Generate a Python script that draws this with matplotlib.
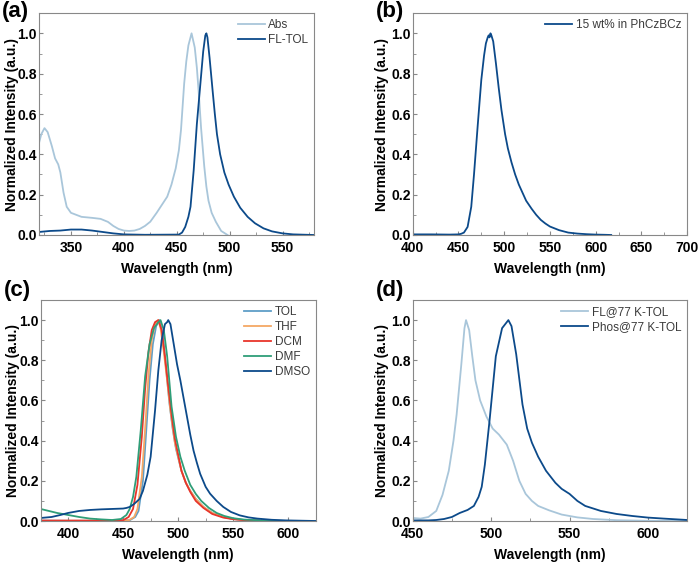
import numpy as np
import matplotlib.pyplot as plt
from matplotlib.ticker import MultipleLocator

plt.rcParams['font.family'] = ['Liberation Sans', 'DejaVu Sans']

# (a) absorption and fluorescence in toluene
abs_x = [320, 322, 325, 328, 332, 335, 338, 340, 343, 346, 350, 355, 360, 370, 378, 385, 390, 395,
         400, 405, 410, 415, 420, 425, 431, 436, 441, 445, 449, 452, 454, 457, 459, 461, 464, 467,
         469, 471, 473, 476, 478, 480, 483, 487, 492, 498]
abs_y = [0.46, 0.50, 0.53, 0.51, 0.44, 0.38, 0.35, 0.31, 0.21, 0.14, 0.11, 0.10, 0.09, 0.085, 0.08,
         0.065, 0.045, 0.03, 0.022, 0.02, 0.022, 0.03, 0.045, 0.066, 0.11, 0.15, 0.19, 0.25, 0.33,
         0.42, 0.52, 0.75, 0.86, 0.94, 1.0, 0.93, 0.83, 0.69, 0.53, 0.34, 0.24, 0.17, 0.11, 0.065,
         0.02, 0.0]
fl_x = [320, 330, 340, 350, 360, 370, 380, 390, 400, 420, 452, 455, 458, 461, 463, 466, 469, 472,
        475, 477, 478, 479, 481, 484, 486, 488, 491, 495, 499, 504, 510, 517, 524, 532, 540, 550,
        560, 580]
fl_y = [0.015, 0.02, 0.022, 0.027, 0.027, 0.022, 0.015, 0.008, 0.003, 0.001, 0.002, 0.012, 0.04,
        0.09, 0.14, 0.32, 0.55, 0.73, 0.91, 0.99, 1.0, 0.98, 0.88, 0.71, 0.60, 0.50, 0.40, 0.31,
        0.25, 0.19, 0.135, 0.09, 0.058, 0.033, 0.018, 0.008, 0.003, 0.0]

# (b) doped film
film_x = [400, 420, 440, 450, 453, 456, 460, 464, 467, 471, 475, 478, 480, 482, 483, 484, 485, 486,
          488, 491, 494, 497, 501, 504, 508, 512, 516, 520, 524, 530, 535, 540, 545, 550, 560, 570,
          580, 590, 600, 610, 617]
film_y = [0.003, 0.003, 0.002, 0.003, 0.006, 0.012, 0.04, 0.14, 0.30, 0.54, 0.77, 0.89, 0.95,
          0.98, 0.99, 0.98, 1.0, 0.99, 0.96, 0.85, 0.73, 0.62, 0.50, 0.43, 0.36, 0.30, 0.25, 0.21,
          0.17, 0.13, 0.10, 0.075, 0.057, 0.042, 0.024, 0.012, 0.007, 0.004, 0.002, 0.001, 0.0]

# (c) solvatochromism
tol_x = [375, 400, 440, 456, 461, 464, 468, 471, 474, 477, 480, 483, 486, 489, 492, 495, 498, 503,
         507, 511, 516, 523, 531, 541, 550, 560, 580, 600, 625]
tol_y = [0.002, 0.001, 0.001, 0.004, 0.02, 0.05, 0.20, 0.45, 0.70, 0.88, 0.97, 1.0, 0.93, 0.76,
         0.59, 0.46, 0.36, 0.25, 0.19, 0.15, 0.11, 0.07, 0.04, 0.02, 0.01, 0.005, 0.001, 0.0, 0.0]
thf_x = [375, 400, 440, 455, 460, 463, 467, 470, 473, 476, 479, 482, 484, 487, 490, 493, 497, 503,
         507, 511, 516, 523, 531, 541, 550, 560, 580]
thf_y = [0.001, 0.001, 0.001, 0.003, 0.02, 0.06, 0.22, 0.46, 0.72, 0.90, 0.98, 1.0, 0.96, 0.84,
         0.70, 0.55, 0.39, 0.25, 0.19, 0.15, 0.11, 0.07, 0.04, 0.02, 0.01, 0.005, 0.0]
dcm_x = [375, 400, 440, 450, 455, 459, 463, 467, 470, 473, 476, 479, 482, 485, 488, 491, 494, 497,
         503, 507, 511, 516, 523, 531, 541, 550, 560, 580]
dcm_y = [0.002, 0.002, 0.002, 0.004, 0.02, 0.06, 0.18, 0.42, 0.66, 0.84, 0.95, 0.99, 1.0, 0.95,
         0.82, 0.67, 0.53, 0.41, 0.25, 0.19, 0.145, 0.10, 0.065, 0.035, 0.017, 0.009, 0.004, 0.0]
dmf_x = [375, 390, 400, 410, 420, 430, 440, 448, 453, 456, 459, 462, 466, 470, 474, 478, 482, 484,
         487, 490, 494, 498, 502, 506, 511, 516, 521, 528, 535, 542, 550, 560, 580, 600]
dmf_y = [0.06, 0.04, 0.03, 0.02, 0.012, 0.008, 0.005, 0.01, 0.03, 0.06, 0.12, 0.22, 0.45, 0.72,
         0.88, 0.96, 0.99, 1.0, 0.95, 0.82, 0.57, 0.42, 0.32, 0.25, 0.18, 0.135, 0.10, 0.065, 0.04,
         0.025, 0.014, 0.007, 0.002, 0.0]
dmso_x = [375, 385, 393, 400, 410, 420, 430, 440, 450, 453, 456, 460, 465, 468, 472, 475, 479, 482,
          485, 488, 490, 491, 493, 496, 499, 502, 505, 508, 511, 514, 517, 520, 525, 529, 535, 541,
          548, 556, 564, 572, 585, 598, 625]
dmso_y = [0.015, 0.02, 0.03, 0.04, 0.05, 0.055, 0.058, 0.06, 0.062, 0.065, 0.07, 0.085, 0.11, 0.15,
          0.23, 0.32, 0.55, 0.75, 0.90, 0.98, 0.99, 1.0, 0.98, 0.88, 0.78, 0.70, 0.61, 0.52, 0.43,
          0.35, 0.29, 0.235, 0.17, 0.136, 0.10, 0.07, 0.045, 0.028, 0.018, 0.012, 0.006, 0.003, 0.0]

# (d) 77 K fluorescence and phosphorescence
fl77_x = [450, 455, 460, 465, 469, 473, 476, 478, 481, 483, 484, 486, 488, 490, 493, 497, 501, 505,
          510, 514, 518, 522, 526, 530, 537, 545, 555, 565, 580, 600, 625]
fl77_y = [0.015, 0.012, 0.02, 0.05, 0.13, 0.25, 0.40, 0.53, 0.78, 0.96, 1.0, 0.95, 0.82, 0.70,
          0.60, 0.52, 0.46, 0.43, 0.38, 0.30, 0.20, 0.135, 0.10, 0.075, 0.053, 0.032, 0.018, 0.01,
          0.004, 0.001, 0.0]
phos_x = [450, 460, 465, 470, 475, 480, 485, 489, 492, 494, 496, 499, 503, 507, 509, 511, 513, 516,
          520, 523, 526, 530, 535, 541, 545, 550, 555, 560, 570, 580, 590, 600, 610, 625]
phos_y = [0.003, 0.003, 0.005, 0.01, 0.02, 0.04, 0.055, 0.075, 0.12, 0.17, 0.28, 0.50, 0.82, 0.96,
          0.98, 1.0, 0.97, 0.83, 0.58, 0.46, 0.39, 0.32, 0.25, 0.19, 0.16, 0.135, 0.10, 0.075, 0.05,
          0.035, 0.025, 0.017, 0.012, 0.005]

light = '#a9c6da'
dark = '#0c4a8a'
spine_c = '#888888'
lw = 1.3

fig = plt.figure(figsize=(7.0, 5.63), dpi=100)
ax_a = fig.add_axes([0.056, 0.5826, 0.393, 0.394])
ax_b = fig.add_axes([0.5896, 0.5826, 0.392, 0.394])
ax_c = fig.add_axes([0.058, 0.0746, 0.393, 0.3925])
ax_d = fig.add_axes([0.5896, 0.0746, 0.392, 0.3925])

ax_a.plot(abs_x, abs_y, color=light, lw=lw, label='Abs')
ax_a.plot(fl_x, fl_y, color=dark, lw=lw, label='FL-TOL')
ax_a.set_xlim(320, 580)

ax_b.plot(film_x, film_y, color=dark, lw=lw, label='15 wt% in PhCzBCz')
ax_b.set_xlim(400, 700)

ax_c.plot(tol_x, tol_y, color='#5f9ec7', lw=lw, label='TOL')
ax_c.plot(thf_x, thf_y, color='#f5a865', lw=lw, label='THF')
ax_c.plot(dcm_x, dcm_y, color='#e8352b', lw=lw, label='DCM')
ax_c.plot(dmf_x, dmf_y, color='#2f9e78', lw=lw, label='DMF')
ax_c.plot(dmso_x, dmso_y, color=dark, lw=lw, label='DMSO')
ax_c.set_xlim(375, 625)

ax_d.plot(fl77_x, fl77_y, color=light, lw=lw, label='FL@77 K-TOL')
ax_d.plot(phos_x, phos_y, color=dark, lw=lw, label='Phos@77 K-TOL')
ax_d.set_xlim(450, 625)

tag_y = {'(a)': 0.999, '(b)': 0.999, '(c)': 1 - 280 / 563, '(d)': 1 - 280 / 563}
ylab_x = {'(a)': -0.074, '(b)': -0.088, '(c)': -0.074, '(d)': -0.088}
for ax, tag in zip([ax_a, ax_b, ax_c, ax_d], ['(a)', '(b)', '(c)', '(d)']):
    ax.set_ylim(0, 1.1)
    ax.xaxis.set_major_locator(MultipleLocator(50))
    ax.xaxis.set_minor_locator(MultipleLocator(25))
    ax.yaxis.set_major_locator(MultipleLocator(0.2))
    ax.yaxis.set_minor_locator(MultipleLocator(0.1))
    ax.tick_params(which='both', direction='in', color=spine_c, labelsize=10)
    ax.tick_params(axis='x', pad=4.5)
    ax.tick_params(axis='y', pad=1.5)
    ax.tick_params(which='major', length=3)
    ax.tick_params(which='minor', length=2)
    for lab in ax.get_xticklabels() + ax.get_yticklabels():
        lab.set_fontweight('bold')
    for sp in ax.spines.values():
        sp.set_color(spine_c)
        sp.set_linewidth(0.8)
    ax.set_xlabel('Wavelength (nm)', fontsize=10, fontweight='bold', labelpad=5)
    ax.set_ylabel('Normalized Intensity (a.u.)', fontsize=10, fontweight='bold')
    ax.yaxis.set_label_coords(ylab_x[tag], 0.5)
    leg = ax.legend(loc='upper right', frameon=False, fontsize=8.5, handlelength=2.3,
                    borderaxespad=0.1, labelspacing=0.25, handletextpad=0.3)
    for t in leg.get_texts():
        t.set_color('#3a3a3a')
    pos = ax.get_position()
    fig.text(pos.x0 - 0.053, tag_y[tag], tag, fontsize=16, fontweight='bold', va='top', ha='left')

fig.savefig('out.png', dpi=100)
